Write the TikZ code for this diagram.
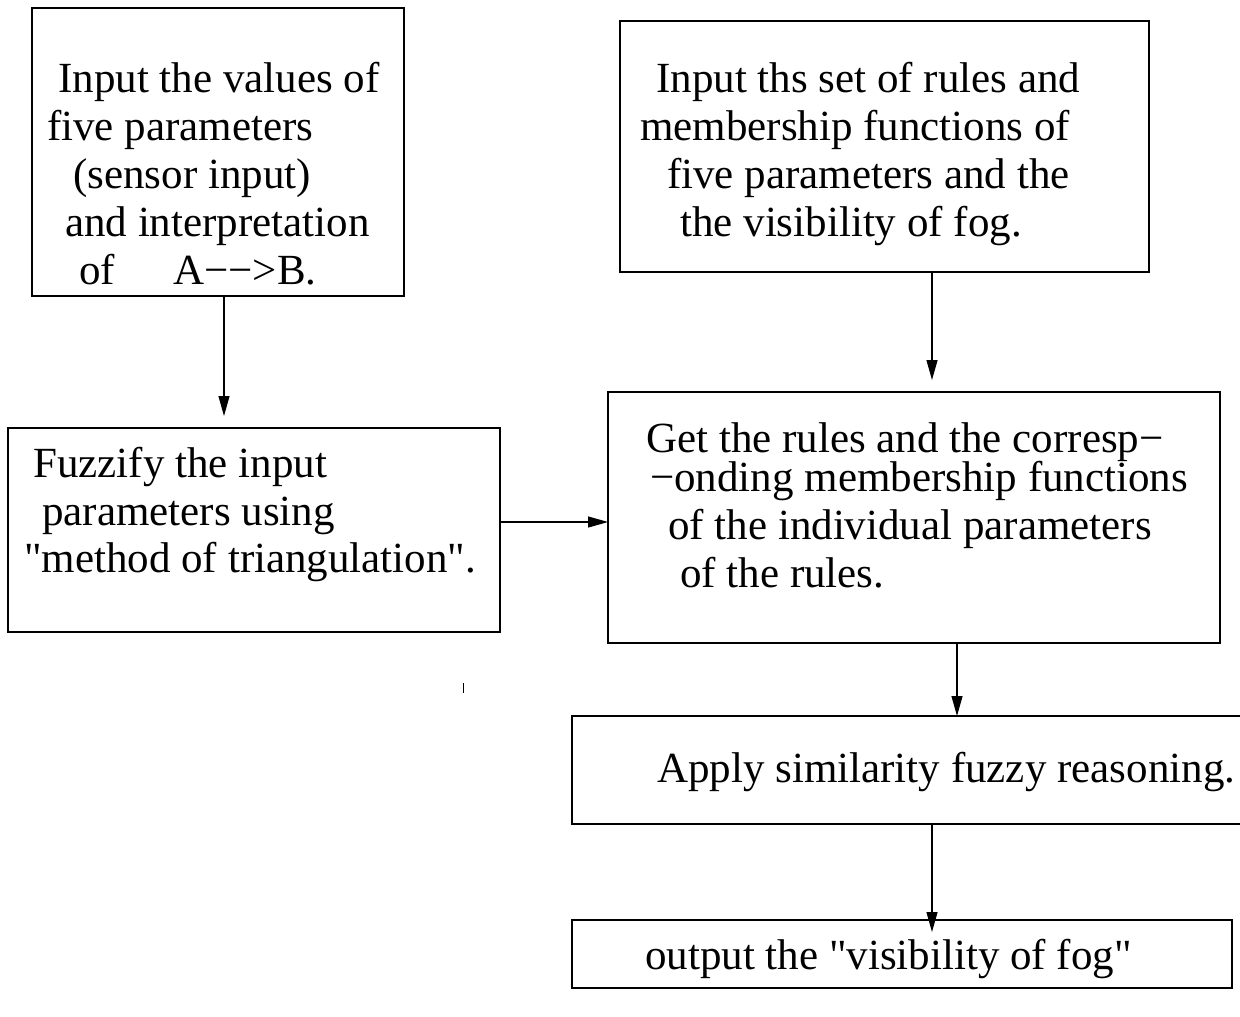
\documentclass[tikz,border=0pt]{standalone}
\usepackage{fontspec}
\setmainfont{Liberation Serif}
\usetikzlibrary{arrows.meta}
\newcommand{\mns}{\char"2212\relax}
\begin{document}
\begin{tikzpicture}[x=1pt,y=-1pt,
  box/.style={draw,line width=1.2pt,rectangle,inner sep=0pt,outer sep=0pt},
  txt/.style={anchor=base west,inner sep=0pt,font=\fontsize{43}{48}\selectfont},
  flow/.style={line width=1.2pt,-{Triangle[length=20pt,width=11pt]}}]
\useasboundingbox (0,0) rectangle (1240,1017);
% boxes
\node[box,minimum width=372pt,minimum height=288pt] (b1) at (218,152) {};
\node[box,minimum width=529pt,minimum height=251pt] (b2) at (884.5,146.5) {};
\node[box,minimum width=492pt,minimum height=204pt] (b3) at (254,530) {};
\node[box,minimum width=612pt,minimum height=251pt] (b4) at (914,517.5) {};
\node[box,minimum width=670pt,minimum height=108pt] (b5) at (907,770) {};
\node[box,minimum width=660pt,minimum height=68pt] (b6) at (902,954) {};
% texts box1
\node[txt] (t11) at (58,92) {Input the values of};
\node[txt] (t12) at (47,140) {five parameters};
\node[txt] (t13) at (73,188) {(sensor input)};
\node[txt] (t14) at (65,236) {and interpretation};
\node[txt] (t15) at (79,284) {of};
\node[txt] (t16) at (173,284) {A\mns\mns>B.};
% box2
\node[txt] (t21) at (656,92) {Input ths set of rules and};
\node[txt] (t22) at (640,140) {membership functions of};
\node[txt] (t23) at (667,188) {five parameters and the};
\node[txt] (t24) at (680,236) {the visibility of fog.};
% box3
\node[txt] (t31) at (33,477) {Fuzzify the input};
\node[txt] (t32) at (42,525) {parameters using};
\node[txt] (t33) at (24,572) {\textquotedbl method of triangulation\textquotedbl.};
% box4
\node[txt] (t41) at (646,452) {Get the rules and the corresp\mns};
\node[txt] (t42) at (650,491) {\mns onding membership functions};
\node[txt] (t43) at (668,539) {of the individual parameters};
\node[txt] (t44) at (680,587) {of the rules.};
% box5, box6
\node[txt] (t51) at (657,782) {Apply similarity fuzzy reasoning.};
\node[txt] (t61) at (645,969) {output the \textquotedbl visibility of fog\textquotedbl};
% connectors
\coordinate (e1) at (224,416);
\coordinate (e2) at (932,380);
\coordinate (y3) at (0,522);
\coordinate (x4) at (957,0);
\coordinate (e5) at (932,932);
\draw[flow] (b1.south -| e1) -- (e1);
\draw[flow] (b2.south -| e2) -- (e2);
\draw[flow] (b3.east |- y3) -- (b4.west |- y3);
\draw[flow] (b4.south -| x4) -- (b5.north -| x4);
\draw[flow] (b5.south -| e5) -- (e5);
% stray tick
\coordinate (k1) at (463,683);
\coordinate (k2) at (463,693);
\draw[line width=1pt] (k1) -- (k2);
\end{tikzpicture}
\end{document}
